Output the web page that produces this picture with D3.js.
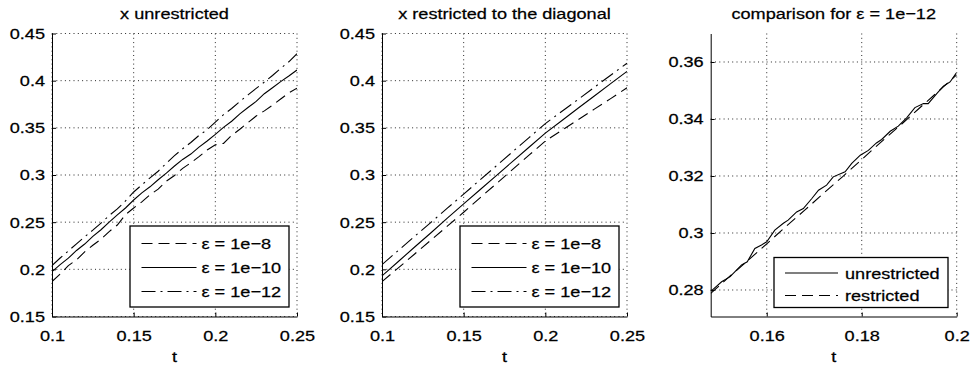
<!DOCTYPE html>
<head>
  <meta charset="utf-8">
  <script src="https://d3js.org/d3.v7.min.js"></script>
  <style>
    body { margin:0; background:#fff; }
    text { font-family: "Liberation Sans", Arial, sans-serif; font-size: 15.5px; fill: #000; stroke: #000; stroke-width: 0.25px; }
    .grid line { stroke: #111; stroke-width: 0.9; stroke-dasharray: 1,3.3; }
    .curve { fill: none; stroke: #000; stroke-width: 1.1; }
    .axis path, .axis line { stroke: #000; }
  </style>
</head>

<body>
  <script>

    // ---- data ----
    // left panel (unrestricted), t step 0.005
    var tUnr = [0.100,0.105,0.110,0.115,0.120,0.125,0.130,0.135,0.140,0.145,0.150,0.155,0.160,0.165,0.170,0.175,
                0.180,0.185,0.190,0.195,0.200,0.205,0.210,0.215,0.220,0.225,0.230,0.235,0.240,0.245,0.250];
    var unr8  = [0.1870,0.1950,0.2040,0.2100,0.2185,0.2255,0.2320,0.2400,0.2470,0.2580,0.2650,0.2715,0.2790,0.2850,0.2935,0.2995,
                 0.3070,0.3130,0.3195,0.3265,0.3320,0.3335,0.3420,0.3485,0.3555,0.3625,0.3680,0.3740,0.3805,0.3870,0.3920];
    var unr10 = [0.1975,0.2050,0.2118,0.2200,0.2268,0.2350,0.2420,0.2500,0.2578,0.2650,0.2735,0.2810,0.2875,0.2950,0.3020,0.3095,
                 0.3165,0.3222,0.3295,0.3360,0.3430,0.3505,0.3570,0.3648,0.3715,0.3780,0.3862,0.3925,0.3990,0.4050,0.4113];
    var unr12 = [0.2040,0.2120,0.2195,0.2270,0.2345,0.2415,0.2490,0.2570,0.2640,0.2725,0.2820,0.2895,0.2970,0.3040,0.3125,0.3205,
                 0.3278,0.3345,0.3420,0.3480,0.3560,0.3640,0.3705,0.3780,0.3850,0.3918,0.3985,0.4055,0.4130,0.4200,0.4286];

    // middle panel (restricted to the diagonal), t step 0.01
    var tRes = [0.10,0.11,0.12,0.13,0.14,0.15,0.16,0.17,0.18,0.19,0.20,0.21,0.22,0.23,0.24,0.25];
    var res8  = [0.1870,0.2015,0.2163,0.2310,0.2458,0.2605,0.2758,0.2908,0.3060,0.3210,0.3360,0.3472,0.3585,0.3698,0.3810,0.3925];
    var res10 = [0.1930,0.2083,0.2237,0.2388,0.2542,0.2693,0.2844,0.2994,0.3145,0.3294,0.3444,0.3575,0.3707,0.3838,0.3968,0.4098];
    var res12 = [0.2050,0.2200,0.2350,0.2498,0.2648,0.2797,0.2948,0.3097,0.3247,0.3396,0.3545,0.3673,0.3800,0.3930,0.4058,0.4185];

    // right panel (comparison for eps = 1e-12)
    var tCmpU = [0.1484,0.1505,0.1523,0.1547,0.1559,0.1575,0.1589,0.1600,0.1617,0.1635,0.1645,0.1663,0.1677,0.1695,0.1709,0.1726,0.1740,
                 0.1765,0.1779,0.1797,0.1814,0.1831,0.1842,0.1860,0.1877,0.1895,0.1912,0.1930,0.1940,0.1958,0.1972,0.1986,0.1999];
    var cmpUnr = [0.2798,0.2829,0.2847,0.2888,0.2899,0.2946,0.2958,0.2969,0.3010,0.3034,0.3045,0.3074,0.3086,0.3121,0.3150,0.3168,0.3197,
                  0.3215,0.3244,0.3273,0.3290,0.3316,0.3328,0.3357,0.3375,0.3405,0.3440,0.3454,0.3454,0.3489,0.3515,0.3530,0.3561];
    var tCmpR = [0.1482,0.152,0.156,0.160,0.164,0.168,0.172,0.176,0.180,0.184,0.188,0.192,0.196,0.200];
    var cmpRes = [0.2788,0.2845,0.2903,0.2962,0.3022,0.3080,0.3140,0.3198,0.3258,0.3318,0.3376,0.3436,0.3495,0.3555];

    // ticks and labels
    var tTicks12 = [0.1,0.15,0.2,0.25],          tLabels12 = ["0.1","0.15","0.2","0.25"];
    var xTicks12 = [0.15,0.2,0.25,0.3,0.35,0.4,0.45], xLabels12 = ["0.15","0.2","0.25","0.3","0.35","0.4","0.45"];
    var tTicks3 = [0.16,0.18,0.2],               tLabels3 = ["0.16","0.18","0.2"];
    var xTicks3 = [0.28,0.3,0.32,0.34,0.36],     xLabels3 = ["0.28","0.3","0.32","0.34","0.36"];
    var titles = ["x unrestricted", "x restricted to the diagonal", "comparison for \u03b5 = 1e\u221212"];
    var epsNames = ["\u03b5 = 1e\u22128", "\u03b5 = 1e\u221210", "\u03b5 = 1e\u221212"];
    var cmpNames = ["unrestricted", "restricted"];

    // ---- drawing ----
    var SX = 1.17; // text in the picture is stretched horizontally
    var DASH = "11,6", DASHDOT = "14,5,2,5";

    var svg = d3.select("body").append("svg")
      .attr("width", 974)
      .attr("height", 367);

    function txt(g, x, y, s, anchor) {
      g.append("text")
        .attr("transform", "translate(" + x + "," + y + ") scale(" + SX + ",1)")
        .attr("text-anchor", anchor || "middle")
        .text(s);
    }

    var panels = [
      { left: 52, right: 297, tDom: [0.1, 0.25], xDom: [0.15, 0.45],
        tTicks: tTicks12, tLabels: tLabels12, xTicks: xTicks12, xLabels: xLabels12, title: titles[0],
        series: [ {t: tUnr, v: unr8, dash: DASH}, {t: tUnr, v: unr10, dash: null}, {t: tUnr, v: unr12, dash: DASHDOT} ],
        legend: { x0: 130, x1: 289, y0: 226, y1: 307, l0: 141.5, l1: 196.5, tx: 201.5, rows: [243.5, 267.5, 291.5],
                  names: epsNames, dashes: [DASH, null, DASHDOT] } },
      { left: 382, right: 627, tDom: [0.1, 0.25], xDom: [0.15, 0.45],
        tTicks: tTicks12, tLabels: tLabels12, xTicks: xTicks12, xLabels: xLabels12, title: titles[1],
        series: [ {t: tRes, v: res8, dash: DASH}, {t: tRes, v: res10, dash: null}, {t: tRes, v: res12, dash: DASHDOT} ],
        legend: { x0: 460, x1: 619, y0: 226, y1: 307, l0: 471.5, l1: 526.5, tx: 531.5, rows: [243.5, 267.5, 291.5],
                  names: epsNames, dashes: [DASH, null, DASHDOT] } },
      { left: 710.7, right: 956.7, tDom: [0.1482, 0.2], xDom: [0.2707, 0.37],
        tTicks: tTicks3, tLabels: tLabels3, xTicks: xTicks3, xLabels: xLabels3, title: titles[2],
        series: [ {t: tCmpU, v: cmpUnr, dash: null}, {t: tCmpR, v: cmpRes, dash: DASH} ],
        legend: { x0: 774, x1: 948, y0: 257.5, y1: 307.5, l0: 785, l1: 838, tx: 845, rows: [273, 295.5],
                  names: cmpNames, dashes: [null, DASH] } }
    ];

    var plotTop = 33.5, plotBottom = 316.5;

    panels.forEach(function(p, i) {
      var x = d3.scaleLinear().domain(p.tDom).range([p.left, p.right]);
      var y = d3.scaleLinear().domain(p.xDom).range([plotBottom, plotTop]);
      var g = svg.append("g");

      // dotted grid
      var grid = g.append("g").attr("class", "grid");
      grid.selectAll(".gv").data(p.tTicks).enter().append("line")
        .attr("x1", function(d) { return x(d); }).attr("x2", function(d) { return x(d); })
        .attr("y1", plotTop).attr("y2", plotBottom);
      grid.selectAll(".gh").data(p.xTicks).enter().append("line")
        .attr("x1", p.left).attr("x2", p.right)
        .attr("y1", function(d) { return y(d); }).attr("y2", function(d) { return y(d); });

      // curves
      g.append("clipPath").attr("id", "clip" + i).append("rect")
        .attr("x", p.left).attr("y", plotTop).attr("width", p.right - p.left).attr("height", plotBottom - plotTop);
      var line = d3.line().x(function(d) { return x(d[0]); }).y(function(d) { return y(d[1]); });
      p.series.forEach(function(s) {
        g.append("path")
          .attr("class", "curve")
          .attr("clip-path", "url(#clip" + i + ")")
          .attr("stroke-dasharray", s.dash)
          .attr("d", line(d3.zip(s.t, s.v)));
      });

      // axes (ticks pointing inward, left and bottom only)
      var ax = g.append("g").attr("class", "axis")
        .attr("transform", "translate(" + p.left + ",0)")
        .call(d3.axisLeft(y).tickValues(p.xTicks).tickSizeInner(-4).tickSizeOuter(0).tickPadding(6)
          .tickFormat(function(d, k) { return p.xLabels[k]; }))
        .attr("font-size", null).attr("font-family", null);
      ax.selectAll("text").attr("transform", "scale(" + SX + ",1)");

      var bx = g.append("g").attr("class", "axis")
        .attr("transform", "translate(0," + plotBottom + ")")
        .call(d3.axisBottom(x).tickValues(p.tTicks).tickSizeInner(-4).tickSizeOuter(0).tickPadding(13.5)
          .tickFormat(function(d, k) { return p.tLabels[k]; }))
        .attr("font-size", null).attr("font-family", null);
      bx.selectAll("text").attr("transform", "scale(" + SX + ",1)");

      var mid = (p.left + p.right) / 2;
      txt(g, mid, 18.5, p.title);
      txt(g, mid, 361.5, "t");

      // legend
      var L = p.legend;
      var lg = g.append("g");
      lg.append("rect")
        .attr("x", L.x0).attr("y", L.y0)
        .attr("width", L.x1 - L.x0).attr("height", L.y1 - L.y0)
        .attr("fill", "#fff").attr("stroke", "#000").attr("stroke-width", 1.3);
      L.names.forEach(function(name, k) {
        lg.append("line")
          .attr("class", "curve")
          .attr("x1", L.l0).attr("x2", L.l1)
          .attr("y1", L.rows[k]).attr("y2", L.rows[k])
          .attr("stroke", "#444")
          .attr("stroke-dasharray", L.dashes[k]);
        txt(lg, L.tx, L.rows[k] + 5.5, name, "start");
      });
    });

  </script>
</body>
